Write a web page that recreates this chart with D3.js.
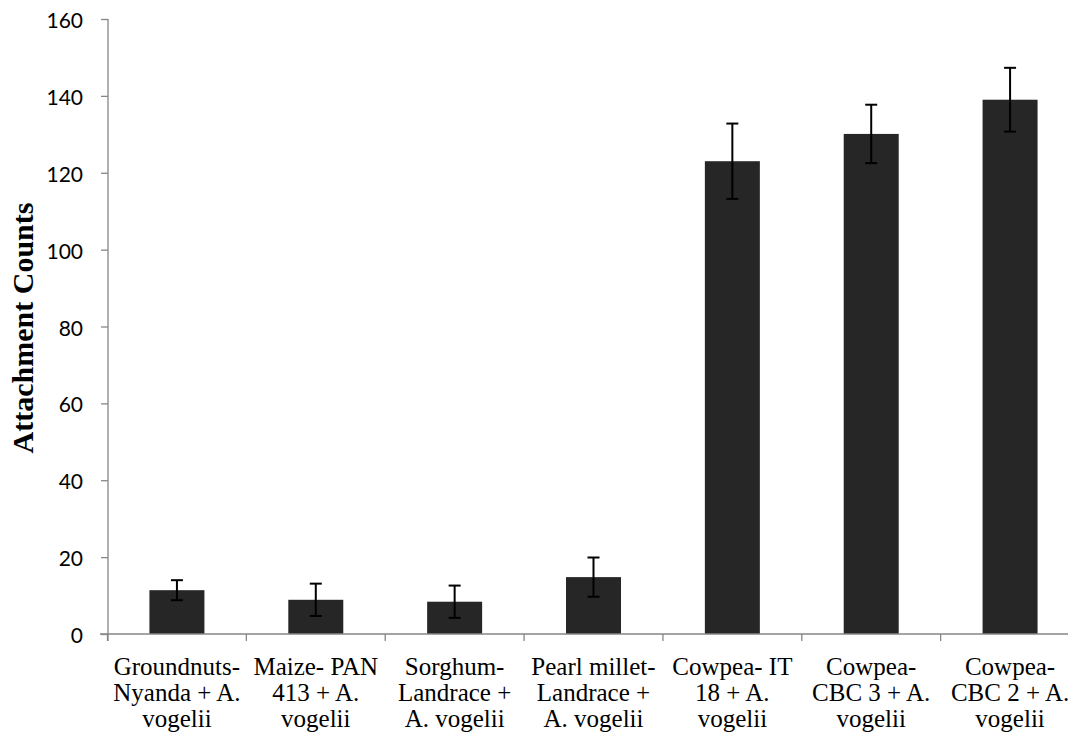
<!DOCTYPE html>
<html>
<head>
<meta charset="utf-8">
<script src="https://cdn.jsdelivr.net/npm/d3@7"></script>
<style>
  html, body { margin: 0; padding: 0; background: #fff; }
  svg { display: block; }
</style>
</head>
<body>
<svg id="chart" width="1068" height="736"></svg>
<script>
// values
const categories = [
  'Groundnuts- Nyanda + A. vogelii',
  'Maize- PAN 413 + A. vogelii',
  'Sorghum- Landrace + A. vogelii',
  'Pearl millet- Landrace + A. vogelii',
  'Cowpea- IT 18 + A. vogelii',
  'Cowpea- CBC 3 + A. vogelii',
  'Cowpea- CBC 2 + A. vogelii'
]
const labelLines = [
  ['Groundnuts-', 'Nyanda + A.', 'vogelii'],
  ['Maize- PAN', '413 + A.', 'vogelii'],
  ['Sorghum-', 'Landrace +', 'A. vogelii'],
  ['Pearl millet-', 'Landrace +', 'A. vogelii'],
  ['Cowpea- IT', '18 + A.', 'vogelii'],
  ['Cowpea-', 'CBC 3 + A.', 'vogelii'],
  ['Cowpea-', 'CBC 2 + A.', 'vogelii']
]
const means = [11.4, 8.9, 8.4, 14.8, 123.0, 130.1, 139.0]
const errors = [2.6, 4.2, 4.2, 5.1, 9.8, 7.6, 8.3]
const yTicks = [0, 20, 40, 60, 80, 100, 120, 140, 160]
const yTitle = 'Attachment Counts'

const data = categories.map((c, i) => ({ cat: c, lines: labelLines[i], mean: means[i], err: errors[i] }))

const axisColor = '#868686'
const serif = '"Liberation Serif", "Times New Roman", serif'
const svg = d3.select('#chart')

const x = d3.scaleBand()
  .domain(categories)
  .range([107.5, 1079.5])
  .paddingInner(0.604)
  .paddingOuter(0.302)

const y = d3.scaleLinear()
  .domain([0, 160])
  .range([634, 19])

// y axis
const yAxis = svg.append('g')
  .attr('transform', 'translate(108,0)')
  .call(d3.axisLeft(y).tickValues(yTicks).tickSize(7).tickSizeOuter(0).tickPadding(18))
yAxis.select('.domain').remove()
yAxis.selectAll('.tick line').attr('stroke', axisColor).attr('stroke-width', 1.3)
yAxis.selectAll('.tick text')
  .attr('fill', '#000')
  .style('font-family', 'Lato, "Open Sans", sans-serif')
  .style('font-size', '21px')
  .attr('dy', null)
  .attr('y', 0)
  .attr('dominant-baseline', 'central')

svg.append('line')
  .attr('x1', 108).attr('x2', 108)
  .attr('y1', y(160)).attr('y2', y(0) + 7)
  .attr('stroke', axisColor).attr('stroke-width', 1.3)

// bars
svg.append('g').selectAll('rect')
  .data(data)
  .join('rect')
  .attr('x', d => x(d.cat))
  .attr('width', x.bandwidth())
  .attr('y', d => y(d.mean))
  .attr('height', d => y(0) - y(d.mean))
  .attr('fill', '#262626')

// x axis
const step = x.step()
const edges = categories.map(c => x(c) - x.paddingOuter() * step)
svg.append('line')
  .attr('x1', 100).attr('x2', 1068)
  .attr('y1', y(0)).attr('y2', y(0))
  .attr('stroke', axisColor).attr('stroke-width', 1.3)
svg.append('g').selectAll('line')
  .data(edges)
  .join('line')
  .attr('x1', d => d).attr('x2', d => d)
  .attr('y1', y(0)).attr('y2', y(0) + 7)
  .attr('stroke', axisColor).attr('stroke-width', 1.3)

// error bars
const eb = svg.append('g').attr('stroke', '#000').attr('stroke-width', 2)
data.forEach(d => {
  const cx = x(d.cat) + x.bandwidth() / 2
  eb.append('line').attr('x1', cx).attr('x2', cx).attr('y1', y(d.mean + d.err)).attr('y2', y(d.mean - d.err))
  eb.append('line').attr('x1', cx - 6).attr('x2', cx + 6).attr('y1', y(d.mean + d.err)).attr('y2', y(d.mean + d.err))
  eb.append('line').attr('x1', cx - 6).attr('x2', cx + 6).attr('y1', y(d.mean - d.err)).attr('y2', y(d.mean - d.err))
})

// category labels
const lbl = svg.append('g').selectAll('g')
  .data(data)
  .join('g')
  .attr('transform', d => 'translate(' + (x(d.cat) + x.bandwidth() / 2) + ',0)')
lbl.selectAll('text')
  .data(d => d.lines)
  .join('text')
  .attr('x', 0)
  .attr('y', (t, i) => 675 + i * 26)
  .attr('text-anchor', 'middle')
  .style('font-family', serif)
  .style('font-size', '25px')
  .attr('fill', '#000')
  .text(t => t)

// y title
svg.append('text')
  .attr('transform', 'translate(33,328) rotate(-90)')
  .attr('text-anchor', 'middle')
  .style('font-family', serif)
  .style('font-weight', 'bold')
  .style('font-size', '30px')
  .attr('fill', '#000')
  .text(yTitle)
</script>
</body>
</html>
